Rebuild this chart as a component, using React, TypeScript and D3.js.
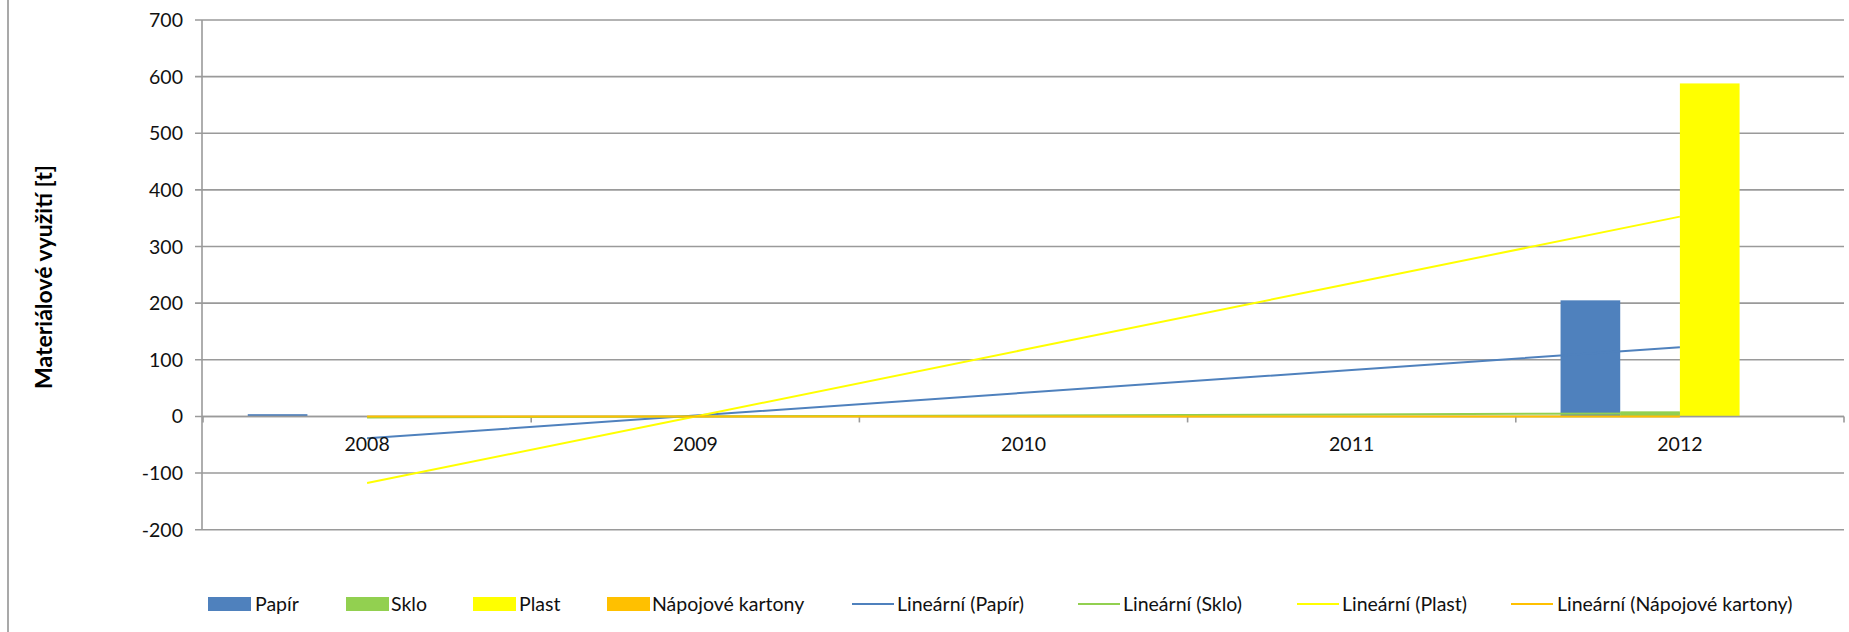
import React from "react";
import * as d3 from "d3";

const years = ["2008", "2009", "2010", "2011", "2012"];
const seriesNames = ["Papír", "Sklo", "Plast", "Nápojové kartony"];
const papir = [4, 0, 0, 0, 205];
const sklo = [0, 0, 0, 0, 9];
const plast = [0, 0, 0, 0, 588];
const kartony = [0, 0, 0, 0, 0];
const seriesColors = ["#4F81BD", "#92D050", "#FFFF00", "#FFC000"];
const yTicks = [-200, -100, 0, 100, 200, 300, 400, 500, 600, 700];
const yTitle = "Materiálové využití [t]";
const trendPrefix = "Lineární";

const W = 1849;
const H = 632;
const FONT = "Lato, 'Open Sans', sans-serif";
const FS = 19.5;

function trend(vals: number[]) {
  const xs = vals.map((_, i) => i + 1);
  const mx = d3.mean(xs) as number;
  const my = d3.mean(vals) as number;
  let num = 0, den = 0;
  xs.forEach((x, i) => { num += (x - mx) * (vals[i] - my); den += (x - mx) ** 2; });
  const b = num / den;
  const a = my - b * mx;
  return xs.map((x) => a + b * x);
}

export default function App() {
  const data = [papir, sklo, plast, kartony];
  const x = d3.scaleBand<string>().domain(years).range([203, 1844]).paddingInner(0).paddingOuter(0);
  const xi = d3.scaleBand<string>().domain(seriesNames).range([0, x.bandwidth()]).paddingInner(0).paddingOuter(0.75);
  const y = d3.scaleLinear().domain([-200, 700]).range([529.7, 20]);
  const y0 = y(0);
  const line = d3.line<number>().x((_, i) => (x(years[i]) as number) + x.bandwidth() / 2).y((v) => y(v));

  const legendLayout = [
    { sx: 208, tx: 255 },
    { sx: 346, tx: 391 },
    { sx: 473, tx: 519 },
    { sx: 607, tx: 652 },
    { sx: 852, tx: 897 },
    { sx: 1078, tx: 1123 },
    { sx: 1297, tx: 1342 },
    { sx: 1511, tx: 1557 },
  ];
  const legendItems = [
    ...seriesNames.map((s, i) => ({ label: s, color: seriesColors[i], kind: "bar" })),
    ...seriesNames.map((s, i) => ({ label: `${trendPrefix} (${s})`, color: seriesColors[i], kind: "line" })),
  ];

  return (
    <svg width={W} height={H} style={{ position: "absolute", left: 0, top: 0, background: "#fff" }} fontFamily={FONT}>
      <rect x={0} y={0} width={W} height={H} fill="#fff" />
      <line x1={8} x2={8} y1={0} y2={H} stroke="#8c8c8c" strokeWidth={1.5} />
      {yTicks.map((t) => (
        <g key={t}>
          <line x1={195} x2={1844} y1={y(t)} y2={y(t)} stroke="#9a9a9a" strokeWidth={1.6} />
          <text x={183} y={y(t)} dy="0.36em" textAnchor="end" fontSize={FS} fill="#111">{t}</text>
        </g>
      ))}
      <line x1={202} x2={202} y1={y(700)} y2={y(-200)} stroke="#9a9a9a" strokeWidth={1.6} />
      {data.map((vals, si) =>
        vals.map((v, i) => {
          const bx = (x(years[i]) as number) + (xi(seriesNames[si]) as number);
          const top = Math.min(y(v), y0);
          const h = Math.abs(y(v) - y0);
          return h > 0 ? <rect key={`${si}-${i}`} x={bx} y={top} width={xi.bandwidth()} height={h} fill={seriesColors[si]} /> : null;
        })
      )}
      <line x1={202} x2={1844} y1={y0} y2={y0} stroke="#9a9a9a" strokeWidth={1.6} />
      {years.map((yr) => (
        <line key={"t" + yr} x1={x(yr) as number} x2={x(yr) as number} y1={y0} y2={y0 + 6} stroke="#9a9a9a" strokeWidth={1.6} />
      ))}
      <line x1={1844} x2={1844} y1={y0} y2={y0 + 6} stroke="#9a9a9a" strokeWidth={1.6} />
      {[0, 1, 2, 3].map((si) => (
        <path key={"tr" + si} d={line(trend(data[si])) as string} fill="none" stroke={seriesColors[si]} strokeWidth={2} />
      ))}
      {years.map((yr) => (
        <text key={"l" + yr} x={(x(yr) as number) + x.bandwidth() / 2} y={451} textAnchor="middle" fontSize={FS} fill="#111">{yr}</text>
      ))}
      <text transform={`translate(52,277) rotate(-90)`} textAnchor="middle" fontSize={23} fontWeight="bold" fill="#000">{yTitle}</text>
      {legendItems.map((it, i) => (
        <g key={"lg" + i}>
          {it.kind === "bar" ? (
            <rect x={legendLayout[i].sx} y={597} width={43} height={14} fill={it.color} />
          ) : (
            <line x1={legendLayout[i].sx} x2={legendLayout[i].sx + 42} y1={604} y2={604} stroke={it.color} strokeWidth={2} />
          )}
          <text x={legendLayout[i].tx} y={604} dy="0.36em" fontSize={FS} fill="#111">{it.label}</text>
        </g>
      ))}
    </svg>
  );
}
